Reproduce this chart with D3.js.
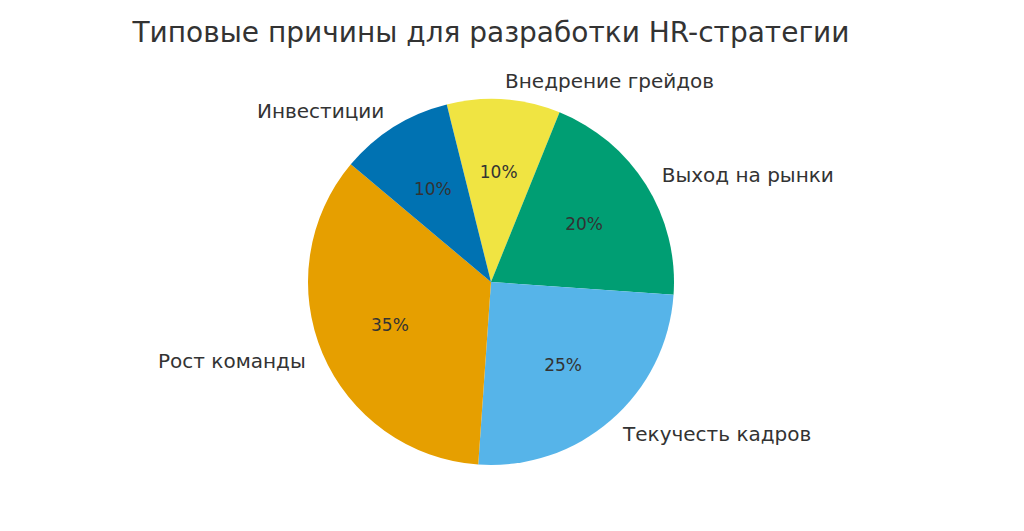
<!DOCTYPE html>
<html><head><meta charset="utf-8">
<script src="https://cdn.jsdelivr.net/npm/d3@7"></script>
<style>body{margin:0;background:#fff}</style></head>
<body><svg id="c" width="1024" height="531"></svg>
<script>
const categories = ["Внедрение грейдов","Выход на рынки","Текучесть кадров","Рост команды","Инвестиции"];
const values = [10,20,25,35,10];
const colors = ["#F0E442","#009E73","#56B4E9","#E69F00","#0072B2"];
const title = "Типовые причины для разработки HR-стратегии";

const svg = d3.select("#c");
const cx = 491, cy = 282, r = 183;
const font = "DejaVu Sans, sans-serif";
svg.append("text").attr("x",491).attr("y",42).attr("text-anchor","middle")
  .attr("font-family",font).attr("font-size",28).attr("fill","#333").text(title);
const start = -14*Math.PI/180;
const pie = d3.pie().sort(null).startAngle(start).endAngle(start+2*Math.PI);
const arcs = pie(values);
const g = svg.append("g").attr("transform",`translate(${cx},${cy})`);
const arc = d3.arc().innerRadius(0).outerRadius(r);
g.selectAll("path").data(arcs).join("path").attr("d",arc).attr("fill",(d,i)=>colors[i]);
arcs.forEach((d,i)=>{
  const a=(d.startAngle+d.endAngle)/2;
  const sx=Math.sin(a), sy=-Math.cos(a);
  g.append("text").attr("x",sx*r*0.6).attr("y",sy*r*0.6).attr("dy","0.35em")
   .attr("text-anchor","middle").attr("font-family",font).attr("font-size",17).attr("fill","#333")
   .text(values[i]+"%");
  g.append("text").attr("x",sx*r*1.1).attr("y",sy*r*1.1).attr("dy","0.35em")
   .attr("text-anchor",sx>0.01?"start":(sx<-0.01?"end":"middle"))
   .attr("font-family",font).attr("font-size",20).attr("fill","#333").text(categories[i]);
});
</script></body></html>
